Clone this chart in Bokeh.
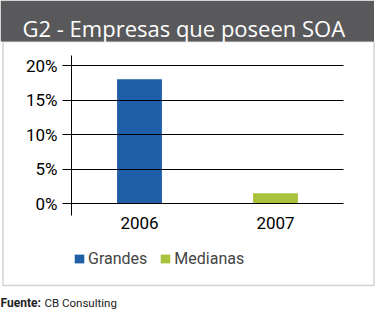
from bokeh.plotting import figure
from bokeh.models import (Range1d, FixedTicker, Legend, LegendItem,
                          BoxAnnotation, Label)
from bokeh.embed import file_html
from bokeh.resources import INLINE

# ---- data ----
categories = ["2006", "2007"]
grandes = [18.0, 0.0]
medianas = [0.0, 1.5]
y_ticks = [0, 5, 10, 15, 20]
y_tick_labels = ["0%", "5%", "10%", "15%", "20%"]
title_text = "G2 - Empresas que poseen SOA"
series_names = ["Grandes", "Medianas"]
source_bold = "Fuente:"
source_text = "CB Consulting"

# ---- layout (canvas pixels) ----
W, H = 377, 321
AX_L, AX_R = 71, 343        # plot area left/right (px)
Y0_PX, Y20_PX = 203, 65     # pixel rows of 0% and 20%
AX_TOP, AX_BOT = 55, 215    # extent of the vertical axis line (px)
BLUE = "#1f5fa8"
GREEN = "#a9c23c"
FONT = "Roboto"

n = len(categories)
xu = (AX_R - AX_L) / n                     # px per category
yu = (Y0_PX - Y20_PX) / y_ticks[-1]        # px per percent
def px2x(px):
    return (px - AX_L) / xu
def px2y(py):
    return (Y0_PX - py) / yu

xpos = [i + 0.5 for i in range(n)]

p = figure(width=W, height=H, output_backend="svg", toolbar_location=None,
           x_range=Range1d(px2x(0), px2x(W)),
           y_range=Range1d(px2y(H), px2y(0)),
           min_border=0)
p.outline_line_color = None
p.background_fill_color = "white"
p.border_fill_color = "white"

# pixel-mapped helper ranges for decorations (frame == whole canvas)
p.extra_x_ranges = {"px": Range1d(0, W)}
p.extra_y_ranges = {"py": Range1d(H, 0)}

# title band and surrounding box
p.add_layout(BoxAnnotation(left=0, right=373.5, top=0, bottom=41,
                           x_range_name="px", y_range_name="py",
                           fill_color="#59595b", fill_alpha=1, line_color=None,
                           level="underlay"))
p.add_layout(BoxAnnotation(left=2.5, right=373.5, top=41, bottom=285,
                           x_range_name="px", y_range_name="py",
                           fill_alpha=0, line_color="#6a6a6a", line_width=1.5,
                           level="underlay"))

r1 = p.vbar(x=xpos, top=grandes, bottom=0, width=0.33,
            fill_color=BLUE, line_color=None)
r2 = p.vbar(x=xpos, top=medianas, bottom=0, width=0.33,
            fill_color=GREEN, line_color=None)

p.grid.visible = False

# vertical axis: tick marks run across the plot as the grid lines
yax = p.yaxis[0]
yax.fixed_location = 0
yax.bounds = (px2y(AX_BOT), px2y(AX_TOP))
yax.ticker = FixedTicker(ticks=y_ticks)
yax.major_label_overrides = {t: l for t, l in zip(y_ticks, y_tick_labels)}
yax.axis_line_color = "black"
yax.axis_line_width = 1
yax.major_tick_out = 9
yax.major_tick_in = AX_R - AX_L
yax.minor_tick_line_color = None
yax.major_tick_line_color = "black"
yax.major_tick_line_width = 1
yax.major_label_standoff = 5
yax.major_label_text_font = FONT
yax.major_label_text_font_size = "17px"
yax.major_label_text_color = "black"

xax = p.xaxis[0]
xax.fixed_location = px2y(AX_BOT)
xax.ticker = FixedTicker(ticks=xpos)
xax.major_label_overrides = {x: c for x, c in zip(xpos, categories)}
xax.axis_line_color = None
xax.major_tick_line_color = None
xax.minor_tick_line_color = None
xax.major_tick_out = 0
xax.major_tick_in = 0
xax.major_label_standoff = 1
xax.major_label_text_font = FONT
xax.major_label_text_font_size = "17px"
xax.major_label_text_color = "black"

# legend
legend = Legend(items=[LegendItem(label=series_names[0], renderers=[r1]),
                       LegendItem(label=series_names[1], renderers=[r2])],
                orientation="horizontal", location=(73, 53),
                padding=0, margin=0, spacing=12, label_standoff=3,
                glyph_width=12, glyph_height=11,
                label_text_font=FONT, label_text_font_size="16px",
                border_line_color=None, background_fill_alpha=0)
p.add_layout(legend)

p.add_layout(Label(x=22, y=27, x_range_name="px", y_range_name="py",
                   text=title_text, text_color="white",
                   text_font="Open Sans", text_font_size="22px",
                   text_baseline="alphabetic"))
p.add_layout(Label(x=0, y=302, x_range_name="px", y_range_name="py",
                   text=source_bold, text_color="#222222", text_font=FONT,
                   text_font_style="bold", text_font_size="12px",
                   text_baseline="alphabetic"))
p.add_layout(Label(x=44, y=302, x_range_name="px", y_range_name="py",
                   text=source_text, text_color="#222222", text_font=FONT,
                   text_font_size="11.5px", text_baseline="alphabetic"))

open("out.html", "w").write(file_html(p, INLINE))
